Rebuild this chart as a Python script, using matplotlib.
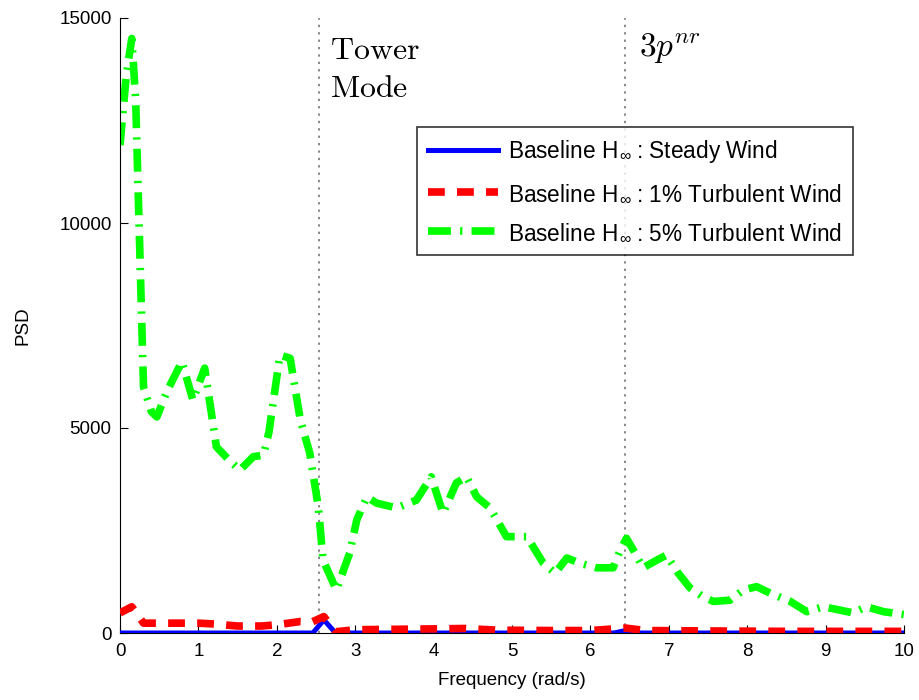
import matplotlib
matplotlib.use("Agg")
import matplotlib.pyplot as plt
import numpy as np

plt.rcParams['font.family'] = ['Liberation Sans', 'DejaVu Sans']
plt.rcParams['mathtext.fontset'] = 'custom'
plt.rcParams['mathtext.rm'] = 'Liberation Sans'
plt.rcParams['mathtext.it'] = 'Liberation Sans:italic'

# Green: 5% turbulent wind
freq_5 = [0.0, 0.08, 0.15, 0.2, 0.3, 0.4, 0.47, 0.6, 0.79, 0.93, 1.08, 1.23, 1.4, 1.53, 1.7, 1.83, 1.9,
          2.04, 2.17, 2.3, 2.42, 2.53, 2.59, 2.76, 2.93, 3.02, 3.15, 3.27, 3.53, 3.78, 3.97, 4.12, 4.29,
          4.42, 4.55, 4.72, 4.93, 5.19, 5.40, 5.55, 5.70, 5.87, 6.08, 6.29, 6.38, 6.46, 6.57, 6.67,
          6.85, 6.97, 7.12, 7.27, 7.44, 7.57, 7.78, 7.95, 8.12, 8.29, 8.55, 8.76, 8.97, 9.18, 9.35,
          9.52, 9.74, 10.0]
psd_5 = [11900, 13600, 14500, 13000, 6000, 5400, 5270, 5900, 6620, 5680, 6460, 4540, 4200, 3975, 4300, 4340, 4900,
         6780, 6700, 5200, 4390, 3070, 1780, 1050, 1950, 2760, 3320, 3170, 3050, 3240, 3810, 2920, 3660,
         3810, 3320, 3050, 2350, 2350, 1700, 1460, 1830, 1700, 1590, 1590, 2020, 2310, 1950, 1590,
         1780, 1900, 1460, 1100, 880, 770, 800, 1050, 1130, 975, 770, 520, 640, 560, 490,
         640, 520, 450]

# Red: 1% turbulent wind
freq_1 = [0.0, 0.15, 0.3, 0.6, 1.0, 1.2, 1.5, 1.8, 2.0, 2.3, 2.45, 2.6, 2.75, 3.0, 3.5, 4.0, 4.4,
          4.8, 5.5, 6.0, 6.45, 6.7, 7.5, 8.5, 9.5, 10.0]
psd_1 = [490, 640, 240, 240, 240, 220, 170, 170, 200, 280, 270, 400, 30, 80, 90, 100, 110,
         70, 60, 60, 120, 60, 50, 40, 40, 40]

# Blue: steady wind
freq_s = [0.0, 2.46, 2.6, 2.75, 6.3, 6.45, 6.6, 10.0]
psd_s = [0, 0, 320, 0, 0, 60, 0, 0]

tower_mode = 2.54
three_p = 6.44

labels = ['Baseline H$_{\\,\\infty}$\u2009: Steady Wind',
          'Baseline H$_{\\,\\infty}$\u2009: 1% Turbulent Wind',
          'Baseline H$_{\\,\\infty}$\u2009: 5% Turbulent Wind']

fig = plt.figure(figsize=(9.19, 7.0), dpi=100)
ax = fig.add_axes([120/919, 67/700, 784/919, 615/700])

ax.axvline(tower_mode, color='#888888', linestyle=(0, (1.2, 2.6)), lw=1.4, zorder=1)
ax.axvline(three_p, color='#888888', linestyle=(0, (1.2, 2.6)), lw=1.4, zorder=1)

ax.plot(freq_s, psd_s, color='#0000ff', lw=3.6, label=labels[0], zorder=3)
ax.plot(freq_1, psd_1, color='#ff0000', lw=5.5, dashes=(2.2, 1.6), label=labels[1], zorder=4)
ax.plot(freq_5, psd_5, color='#00ff00', lw=5.5, dashes=(3.0, 1.2, 0.3, 1.2), label=labels[2], zorder=2)

ax.set_xlim(0, 10)
ax.set_ylim(0, 15000)
ax.set_xticks(np.arange(0, 11, 1))
ax.set_yticks([0, 5000, 10000, 15000])
ax.tick_params(direction='in', labelsize=13.5, length=6, top=False, right=False)
ax.tick_params(axis='x', pad=7)
ax.tick_params(axis='y', pad=6)
ax.spines['top'].set_visible(False)
ax.spines['right'].set_visible(False)
ax.set_xlabel('Frequency (rad/s)', fontsize=13.5, labelpad=9)
ax.set_ylabel('PSD', fontsize=13.5, labelpad=20)

ax.text(2.68, 14000, r'$\mathrm{Tower}$', fontsize=23, math_fontfamily='cm', va='baseline', ha='left')
ax.text(2.68, 13070, r'$\mathrm{Mode}$', fontsize=23, math_fontfamily='cm', va='baseline', ha='left')
ax.text(6.62, 14050, r'$3p^{nr}$', fontsize=24, math_fontfamily='cm', va='baseline', ha='left')

leg = ax.legend(loc='upper left', bbox_to_anchor=(297/784, (633-127)/615), fontsize=16.3,
                frameon=True, fancybox=False, edgecolor='black', handlelength=3.1,
                labelspacing=0.72, borderpad=0.5, handletextpad=0.4, borderaxespad=0)
leg.get_frame().set_linewidth(1.2)

fig.savefig('out.png', dpi=100)
